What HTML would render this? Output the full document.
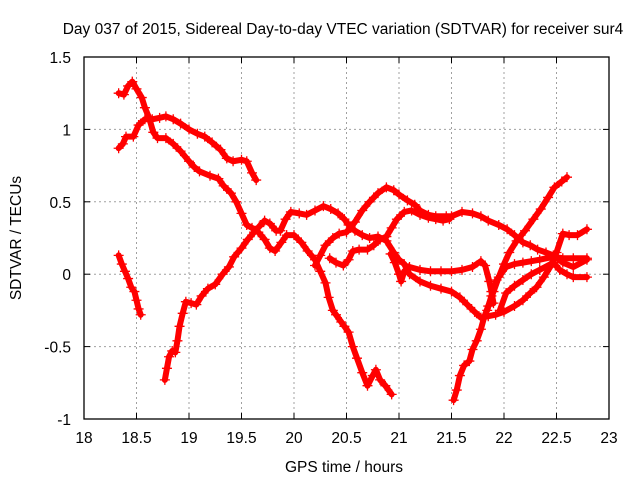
<!DOCTYPE html>
<html><head><meta charset="utf-8"><style>
body{margin:0;background:#fff}
svg{display:block;font-family:"Liberation Sans",sans-serif}
</style></head><body>
<svg id="chart" width="640" height="480" viewBox="0 0 640 480">
<rect width="640" height="480" fill="#fff"/>
<text x="343" y="34" font-size="15.5" text-anchor="middle">Day 037 of 2015, Sidereal Day-to-day VTEC variation (SDTVAR) for receiver sur4</text>
<text transform="translate(21,238) rotate(-90)" font-size="15.5" text-anchor="middle">SDTVAR / TECUs</text>
<text x="344" y="472" font-size="15.5" text-anchor="middle">GPS time / hours</text>
<g id="grid"></g>
<g id="axes"></g>
<g id="series"></g>
</svg>
<script>
const xTicks=[18,18.5,19,19.5,20,20.5,21,21.5,22,22.5,23];
const xTickLabels=["18","18.5","19","19.5","20","20.5","21","21.5","22","22.5","23"];
const yTicks=[1.5,1,0.5,0,-0.5,-1];
const yTickLabels=["1.5","1","0.5","0","-0.5","-1"];
const trackA=[[18.33,1.25],[18.38,1.24],[18.42,1.3],[18.46,1.33],[18.5,1.28],[18.55,1.22],[18.58,1.15],[18.62,1.08],[18.66,0.98],[18.7,0.94],[18.78,0.94],[18.85,0.9],[18.92,0.85],[19.0,0.78],[19.05,0.74],[19.1,0.71],[19.2,0.68],[19.28,0.66],[19.33,0.61],[19.4,0.56],[19.45,0.5],[19.5,0.42],[19.55,0.34],[19.6,0.32],[19.66,0.29],[19.72,0.24],[19.77,0.18],[19.82,0.16],[19.88,0.22],[19.93,0.27],[20.0,0.27],[20.07,0.22],[20.13,0.16],[20.2,0.1],[20.25,0.02],[20.3,-0.06],[20.33,-0.16],[20.37,-0.25],[20.4,-0.28],[20.45,-0.33],[20.48,-0.36],[20.52,-0.4],[20.56,-0.5],[20.6,-0.58],[20.65,-0.68],[20.7,-0.77],[20.75,-0.7],[20.78,-0.66],[20.82,-0.73],[20.87,-0.77],[20.93,-0.83]];
const trackB=[[18.33,0.87],[18.37,0.9],[18.4,0.95],[18.47,0.95],[18.52,1.03],[18.58,1.07],[18.65,1.07],[18.72,1.08],[18.78,1.09],[18.85,1.07],[18.92,1.04],[19.0,1.0],[19.08,0.97],[19.15,0.95],[19.22,0.91],[19.3,0.86],[19.36,0.8],[19.42,0.78],[19.5,0.79],[19.55,0.78],[19.6,0.7],[19.64,0.65]];
const trackC=[[18.33,0.13],[18.36,0.07],[18.39,0.02],[18.42,-0.03],[18.45,-0.09],[18.48,-0.12],[18.5,-0.18],[18.52,-0.24],[18.54,-0.28]];
const trackD=[[18.77,-0.73],[18.79,-0.65],[18.81,-0.57],[18.84,-0.53],[18.87,-0.54],[18.89,-0.46],[18.91,-0.36],[18.94,-0.27],[18.97,-0.19],[19.02,-0.2],[19.07,-0.21],[19.12,-0.15],[19.18,-0.1],[19.25,-0.07],[19.32,0.0],[19.38,0.05],[19.43,0.12],[19.5,0.18],[19.56,0.24],[19.62,0.29],[19.67,0.33],[19.72,0.37],[19.77,0.35],[19.83,0.3],[19.87,0.3],[19.92,0.38],[19.97,0.43],[20.05,0.42],[20.12,0.41],[20.2,0.44],[20.28,0.47],[20.35,0.45],[20.42,0.42],[20.48,0.38],[20.52,0.34],[20.58,0.3],[20.65,0.27],[20.72,0.25],[20.8,0.26],[20.88,0.23],[20.95,0.15],[21.0,0.1],[21.05,0.07],[21.1,0.0],[21.2,-0.05],[21.3,-0.08],[21.4,-0.1],[21.5,-0.12],[21.58,-0.16],[21.65,-0.21],[21.72,-0.26],[21.78,-0.3],[21.85,-0.29],[21.92,-0.28],[22.0,-0.26],[22.1,-0.22],[22.18,-0.18],[22.25,-0.13],[22.31,-0.09],[22.38,-0.02],[22.44,0.05],[22.5,0.15],[22.56,0.28],[22.62,0.27],[22.7,0.27],[22.79,0.31]];
const trackE=[[20.2,0.06],[20.25,0.13],[20.3,0.2],[20.37,0.25],[20.43,0.28],[20.5,0.29],[20.58,0.36],[20.65,0.44],[20.72,0.5],[20.8,0.56],[20.88,0.6],[20.95,0.58],[21.0,0.55],[21.08,0.51],[21.15,0.48],[21.2,0.44],[21.28,0.41],[21.35,0.4],[21.45,0.4],[21.5,0.4],[21.6,0.43],[21.7,0.42],[21.78,0.4],[21.85,0.37],[21.95,0.34],[22.03,0.31],[22.1,0.27],[22.18,0.22],[22.25,0.2],[22.32,0.17],[22.4,0.15],[22.47,0.13],[22.56,0.08],[22.66,0.05],[22.79,0.1]];
const trackG=[[20.34,0.11],[20.4,0.08],[20.47,0.06],[20.52,0.1],[20.56,0.16],[20.62,0.17],[20.7,0.17],[20.76,0.2],[20.82,0.24],[20.88,0.26],[20.93,0.32],[20.98,0.38],[21.05,0.43],[21.12,0.44],[21.2,0.41],[21.28,0.39],[21.35,0.38],[21.42,0.37],[21.48,0.38]];
const trackH=[[20.92,0.14],[20.96,0.08],[21.0,0.0],[21.02,-0.05],[21.05,0.02],[21.1,0.05],[21.2,0.03],[21.3,0.02],[21.4,0.02],[21.5,0.02],[21.6,0.03],[21.7,0.05],[21.78,0.09],[21.82,0.06],[21.86,-0.05],[21.88,-0.12],[21.9,-0.2]];
const trackI2=[[21.84,-0.25],[21.88,-0.15],[21.93,-0.04],[22.02,0.05],[22.1,0.07],[22.18,0.08],[22.26,0.09],[22.34,0.1],[22.47,0.12],[22.56,0.11],[22.66,0.11],[22.79,0.11]];
const trackI3=[[21.96,-0.25],[22.02,-0.13],[22.1,-0.08],[22.18,-0.04],[22.26,0.0],[22.34,0.03],[22.47,0.08],[22.53,0.03],[22.6,0.0],[22.66,-0.02],[22.79,-0.02]];
const trackF=[[21.52,-0.87],[21.55,-0.8],[21.58,-0.7],[21.62,-0.63],[21.67,-0.6],[21.7,-0.52],[21.74,-0.46],[21.78,-0.38],[21.81,-0.3],[21.85,-0.22],[21.9,-0.12],[21.95,-0.02],[22.0,0.07],[22.05,0.15],[22.12,0.23],[22.2,0.3],[22.28,0.38],[22.35,0.45],[22.42,0.53],[22.48,0.6],[22.55,0.64],[22.6,0.67]];

const L=84,R=609,T=57,B=419,xmin=18,xmax=23,ymin=-1,ymax=1.5;
function sx(t){return L+(t-xmin)/(xmax-xmin)*(R-L);}
function sy(v){return B-(v-ymin)/(ymax-ymin)*(B-T);}
const NS="http://www.w3.org/2000/svg";
function mk(tag,attrs,parent){const e=document.createElementNS(NS,tag);for(const k in attrs)e.setAttribute(k,attrs[k]);parent.appendChild(e);return e;}
const grid=document.getElementById('grid'),axes=document.getElementById('axes'),ser=document.getElementById('series');
xTicks.forEach((t,i)=>{
  const x=sx(t);
  if(i>0&&i<xTicks.length-1){const g=mk('line',{x1:x,y1:T,x2:x,y2:B,stroke:'#a0a0a0','stroke-dasharray':'2,3'},grid);
  
  }
  mk('line',{x1:x,y1:B,x2:x,y2:B-6,stroke:'#000'},axes);
  mk('line',{x1:x,y1:T,x2:x,y2:T+6,stroke:'#000'},axes);
  const lb=mk('text',{x:x,y:443,'font-size':15.5,'text-anchor':'middle'},axes);lb.textContent=xTickLabels[i];
  
  
});
yTicks.forEach((v,i)=>{
  const y=sy(v);
  if(i>0&&i<yTicks.length-1){const g=mk('line',{x1:L,y1:y,x2:R,y2:y,stroke:'#a0a0a0','stroke-dasharray':'2,3'},grid);
  
  }
  mk('line',{x1:L,y1:y,x2:L+6,y2:y,stroke:'#000'},axes);
  mk('line',{x1:R,y1:y,x2:R-6,y2:y,stroke:'#000'},axes);
  const lb=mk('text',{x:71,y:y+6,'font-size':15.5,'text-anchor':'end'},axes);lb.textContent=yTickLabels[i];
  
  
});
const frame=mk('rect',{x:L,y:T,width:R-L,height:B-T,fill:'none',stroke:'#000','stroke-width':1.3},axes);


const tracks=[trackA,trackB,trackC,trackD,trackE,trackG,trackH,trackI2,trackI3,trackF];
tracks.forEach((tr,k)=>{
  const g=mk('g',{},ser);
  
  
  mk('polyline',{points:tr.map(p=>sx(p[0])+','+sy(p[1])).join(' '),fill:'none',stroke:'#f00','stroke-width':6,'stroke-linejoin':'round','stroke-linecap':'round'},g);
  let d='';
  tr.forEach(p=>{const x=sx(p[0]),y=sy(p[1]);d+=`M${x-5},${y}h10M${x},${y-5}v10`;});
  mk('path',{d:d,stroke:'#f00','stroke-width':1.3,fill:'none'},g);
});
</script>
</body></html>
